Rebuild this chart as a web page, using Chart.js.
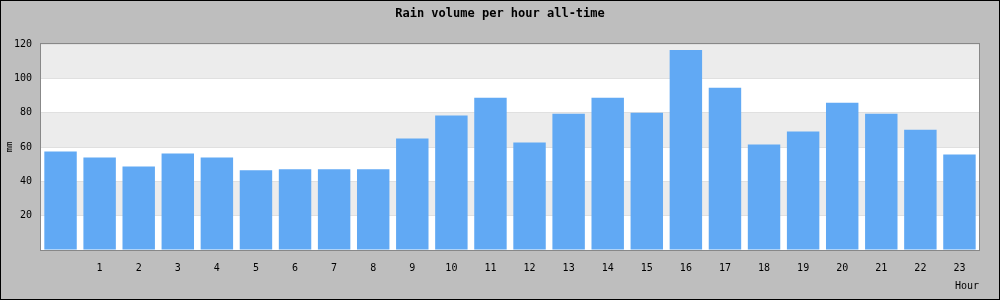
<!DOCTYPE html>
<html>
<head>
<meta charset="utf-8">
<script src="https://cdn.jsdelivr.net/npm/chart.js@4/dist/chart.umd.min.js"></script>
<style>
  html, body { margin: 0; padding: 0; background: #bebebe; }
  #wrap { width: 1000px; height: 300px; }
</style>
</head>
<body>
<div id="wrap"><canvas id="rainChart" width="1000" height="300"></canvas></div>
<script>
// --- data ---
const chartTitle = 'Rain volume per hour all-time';
const hours = ['0', '1', '2', '3', '4', '5', '6', '7', '8', '9', '10', '11',
               '12', '13', '14', '15', '16', '17', '18', '19', '20', '21', '22', '23'];
const rainMm = [57.4, 53.9, 48.7, 56.2, 53.9, 46.4, 47.0, 47.0, 47.0, 64.9, 78.3, 88.7,
                62.6, 79.4, 88.7, 80.0, 116.5, 94.5, 61.4, 69.0, 85.8, 79.4, 70.1, 55.7];
const yTicks = [20, 40, 60, 80, 100, 120];
const xTitle = 'Hour';
const yTitle = 'mm';

const MONO = '"DejaVu Sans Mono", monospace';

// fond, bandes alternées, cadre et textes
const decorPlugin = {
    id: 'decor',
    beforeDraw(chart) {
        const c = chart.ctx;
        c.save();
        c.fillStyle = '#bebebe';
        c.fillRect(0, 0, chart.width, chart.height);
        const area = chart.chartArea;
        const y = chart.scales.y;
        c.fillStyle = '#ffffff';
        c.fillRect(area.left, area.top, area.right - area.left, area.bottom - area.top);
        // bandes grises 20-40, 60-80, 100-120
        c.fillStyle = '#ececec';
        for (let i = 0; i < yTicks.length; i += 2) {
            const lo = yTicks[i], hi = yTicks[i + 1];
            const top = y.getPixelForValue(hi), bot = y.getPixelForValue(lo);
            c.fillRect(area.left, top, area.right - area.left, bot - top);
        }
        c.restore();
    },
    afterDraw(chart) {
        const c = chart.ctx;
        const area = chart.chartArea;
        c.save();
        c.strokeStyle = '#888888';
        c.lineWidth = 1;
        c.strokeRect(area.left - 0.5, area.top - 0.5, area.right - area.left + 1, area.bottom - area.top + 1);
        c.strokeStyle = '#000000';
        c.strokeRect(0.5, 0.5, chart.width - 1, chart.height - 1);

        c.fillStyle = '#000000';
        c.font = 'bold 12px ' + MONO;
        c.textAlign = 'center';
        c.textBaseline = 'middle';
        c.fillText(chartTitle, 500, 14);

        c.font = '10px ' + MONO;
        c.textAlign = 'right';
        c.fillText(xTitle, 979, 286);

        c.translate(10, 147);
        c.rotate(-Math.PI / 2);
        c.textAlign = 'center';
        c.font = '9px ' + MONO;
        c.fillText(yTitle, 0, 0);
        c.restore();
    }
};

const ctx = document.getElementById('rainChart').getContext('2d');
new Chart(ctx, {
    type: 'bar',
    data: {
        labels: hours,
        datasets: [{
            label: 'Rain',
            data: rainMm,
            backgroundColor: '#61a9f4',
            borderWidth: 0,
            barPercentage: 0.83,
            categoryPercentage: 1.0
        }]
    },
    options: {
        responsive: false,
        animation: false,
        layout: { padding: { left: 1, right: 21, top: 44, bottom: 0 } },
        plugins: {
            legend: { display: false },
            tooltip: { enabled: false }
        },
        scales: {
            x: {
                afterFit: (s) => { s.height = 50; },
                grid: { display: false, drawTicks: false },
                border: { display: false },
                ticks: {
                    color: '#000',
                    font: { family: MONO, size: 10 },
                    padding: 12,
                    maxRotation: 0,
                    autoSkip: false,
                    callback: (v, i) => (i === 0 ? '' : hours[i])
                }
            },
            y: {
                min: 0,
                max: 120,
                afterFit: (s) => { s.width = 40; },
                grid: { color: '#e0e0e0', drawTicks: false },
                border: { display: false },
                ticks: {
                    stepSize: 20,
                    color: '#000',
                    font: { family: MONO, size: 10 },
                    padding: 9,
                    callback: (v) => (v === 0 ? '' : v)
                }
            }
        }
    },
    plugins: [decorPlugin]
});
</script>
</body>
</html>
